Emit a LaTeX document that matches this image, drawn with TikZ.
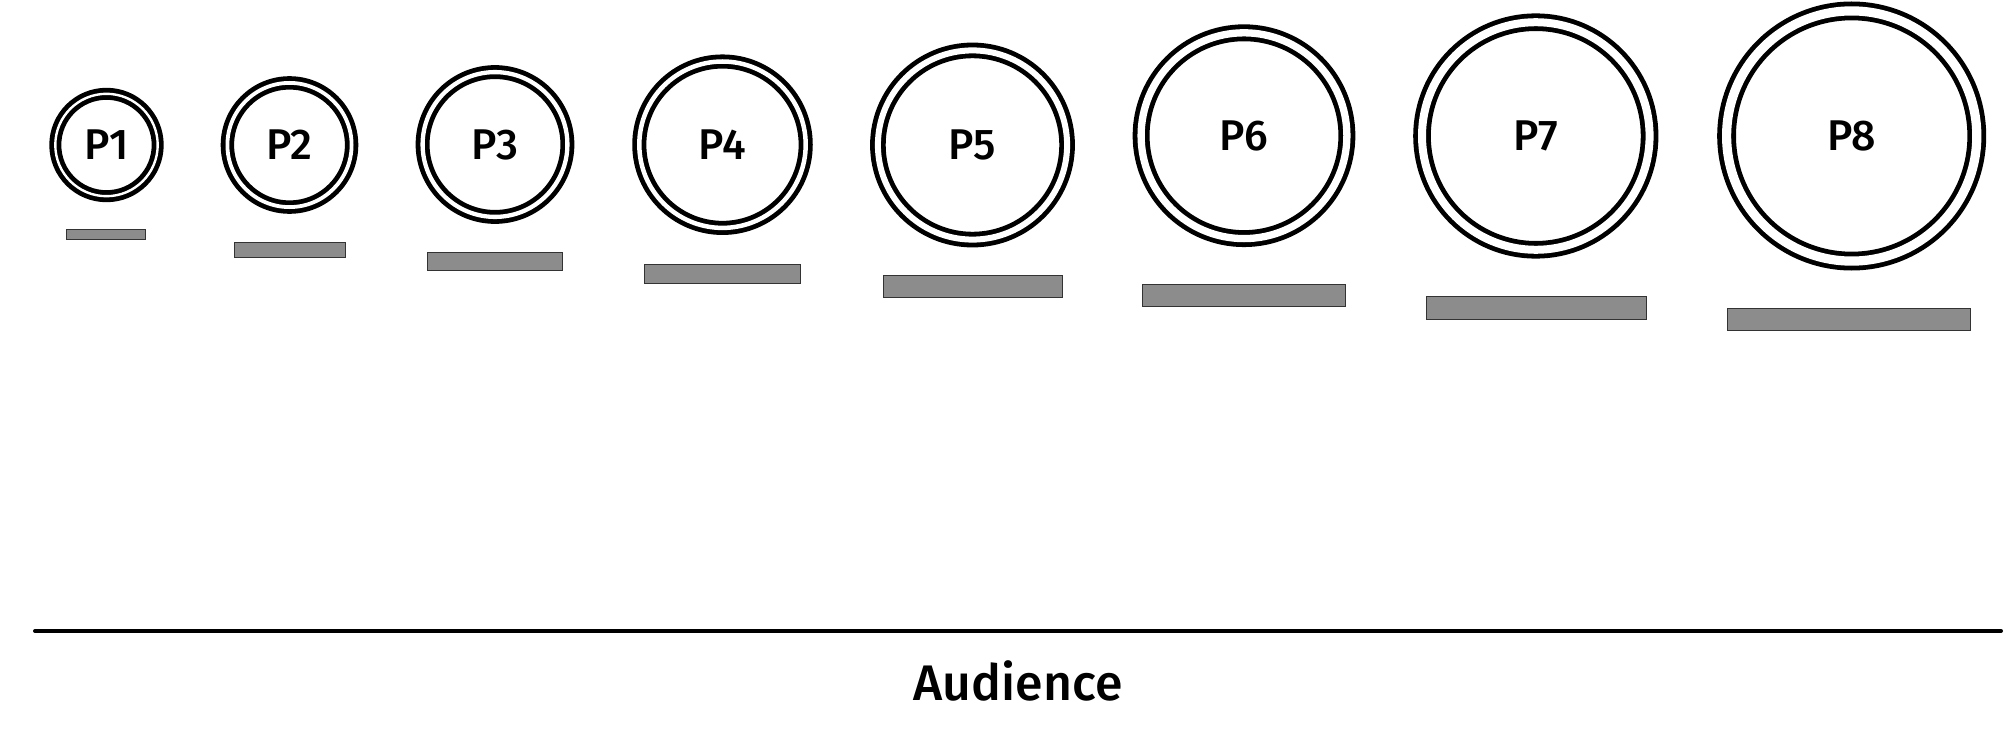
\documentclass[tikz,border=0pt]{standalone}
\usepackage{fontspec}
\setmainfont{Fira Sans}[UprightFont=* Medium]
\usepackage{tikz}
\usetikzlibrary{positioning}

\begin{document}
\begin{tikzpicture}[
    x=0.5pt, y=-0.5pt,
    ring/.style={circle, draw, line width=2.4pt, double, inner sep=0pt,
      font=\fontsize{21.5}{24}\selectfont},
    bar/.style={draw=black!80, line width=0.5pt, fill=black!45, inner sep=0pt}]
    \useasboundingbox (0,0) rectangle (2004,738);
    % presenters
    \node[ring, minimum size=51.2pt, double distance=1.2pt] (p1) at (106.5,145) {P1};
    \node[ring, minimum size=62.1pt, double distance=1.9pt] (p2) at (289.5,145) {P2};
    \node[ring, minimum size=72.4pt, double distance=2.15pt] (p3) at (495,144.5) {P3};
    \node[ring, minimum size=83.2pt, double distance=2.25pt] (p4) at (722.5,144.7) {P4};
    \node[ring, minimum size=94.6pt, double distance=3pt] (p5) at (972.5,145) {P5};
    \node[ring, minimum size=102.9pt, double distance=3.65pt] (p6) at (1244,135.7) {P6};
    \node[ring, minimum size=113.8pt, double distance=4pt] (p7) at (1535.8,136) {P7};
    \node[ring, minimum size=125.1pt, double distance=4.6pt] (p8) at (1851.7,136) {P8};
    % shadows under them
    \node[bar, minimum width=39.6pt, minimum height=5.1pt] (b1) at (106.3,234.3) {};
    \node[bar, minimum width=55.3pt, minimum height=7.3pt] (b2) at (289.7,250) {};
    \node[bar, minimum width=67.6pt, minimum height=8.8pt] (b3) at (495,261.2) {};
    \node[bar, minimum width=78.1pt, minimum height=9.6pt] (b4) at (722.5,273.7) {};
    \node[bar, minimum width=89.5pt, minimum height=11pt] (b5) at (972.8,286.7) {};
    \node[bar, minimum width=101.5pt, minimum height=10.8pt] (b6) at (1244.2,295.2) {};
    \node[bar, minimum width=110.3pt, minimum height=11.5pt] (b7) at (1536.3,307.5) {};
    \node[bar, minimum width=121.7pt, minimum height=11.1pt] (b8) at (1849,319.8) {};
    % audience
    \coordinate (aL) at (35,631);
    \coordinate (aR) at (2001,631);
    \draw[line width=2pt, line cap=round] (aL) -- (aR);
    \node[anchor=base, inner sep=0pt, font=\fontsize{25}{30}\selectfont] (aud) at (1018,700) {Audience};
\end{tikzpicture}
\end{document}
